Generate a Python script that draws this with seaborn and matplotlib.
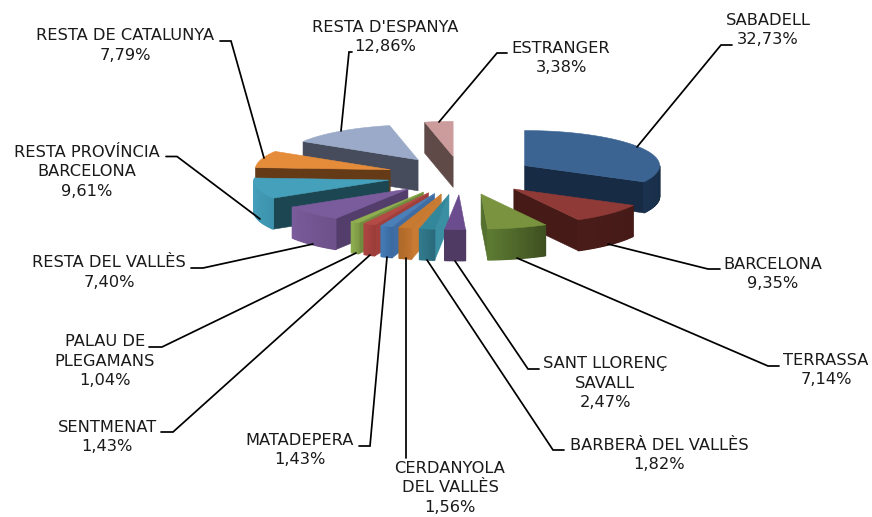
import numpy as np
import matplotlib
matplotlib.use("Agg")
import matplotlib.pyplot as plt
import seaborn as sns

sns.set_theme(style="white")
plt.rcParams['font.family'] = ['DejaVu Sans']

# --- DATA ---
names = ["SABADELL", "BARCELONA", "TERRASSA", "SANT LLORENÇ\nSAVALL", "BARBERÀ DEL VALLÈS",
         "CERDANYOLA\nDEL VALLÈS", "MATADEPERA", "SENTMENAT", "PALAU DE\nPLEGAMANS",
         "RESTA DEL VALLÈS", "RESTA PROVÍNCIA\nBARCELONA", "RESTA DE CATALUNYA",
         "RESTA D'ESPANYA", "ESTRANGER"]
values = [32.73, 9.35, 7.14, 2.47, 1.82, 1.56, 1.43, 1.43, 1.04, 7.40, 9.61, 7.79, 12.86, 3.38]

# --- COLOURS (same order as the data) ---
top_colors = ["#3b6493", "#8f3a36", "#7a933f", "#6b4c8e", "#33879b", "#c87a30", "#4a7fb8",
              "#b34a46", "#8fae4f", "#7a5b9b", "#45a0bc", "#e58c3a", "#9aaac8", "#cb9c9b"]
side_colors = ["#172b44", "#451a17", "#55702f", "#4e3a63", "#3a8fa3", "#c97b33", "#3f6da3",
               "#a03f3c", "#728c3f", "#523d6b", "#1c4752", "#643a17", "#464c5c", "#5f4a48"]
outer_start = ["#172b44", "#451a17", "#3e5020", "#4e3a63", "#2a6a7c", "#c07430", "#3a6aa0",
               "#9c3d3a", "#7e9a45", "#6d5089", "#3d93ad", "#d98334", "#464c5c", "#5f4a48"]
outer_end = ["#1b3350", "#4a1c19", "#5d7a32", "#4e3a63", "#31798c", "#b06a2a", "#437ab3",
             "#ab4441", "#8cab4e", "#7a5b9b", "#45a0bc", "#e58c3a", "#464c5c", "#5f4a48"]

# --- PIE SHAPE (pixels) ---
cx, cy = 461, 175.5
rx, ry = 135, 35
depth = 31
explode = 0.55
draw_order = [13, 12, 0, 11, 10, 1, 9, 2, 8, 7, 6, 5, 4, 3]

# --- LABELS + LEADERS (pixels) ---
label_pos = [(768, 30), (773, 274), (826, 370), (605, 383), (659, 455), (450, 488), (300, 450),
             (107, 437), (105, 361), (109, 272.5), (87, 172), (125, 45.5), (385, 37), (561, 58)]
leaders = [
    [(732, 45), (721, 45), (637, 147)],
    [(720, 269), (708, 269), (608, 244)],
    [(779, 366), (768, 366), (517, 258)],
    [(539, 369), (528, 369), (455, 261)],
    [(564, 450), (553, 450), (427, 260)],
    [(406, 458), (406, 258)],
    [(359, 446), (370, 446), (387, 257)],
    [(161, 432), (173, 432), (370, 255)],
    [(149, 347), (162, 347), (356, 253)],
    [(191, 268), (203, 268), (313, 244)],
    [(166, 156.5), (177, 156.5), (260, 219)],
    [(220, 41), (231, 41), (264, 158)],
    [(352, 52), (349, 52), (341, 131)],
    [(507, 53), (497, 53), (439, 122)],
]

fig, ax = plt.subplots(figsize=(8.72, 5.17), dpi=100)
fig.subplots_adjust(0, 0, 1, 1)
ax.set_xlim(0, 872)
ax.set_ylim(517, 0)
ax.axis('off')

# slice limits in degrees, clockwise from the top
edges = np.concatenate([[0], np.cumsum(values)]) / np.sum(values) * 360


def ellipse_xy(deg, ox, oy):
    t = np.radians(deg)
    return ox + rx * np.sin(t), oy - ry * np.cos(t)


z = 2
for i in draw_order:
    a0, a1 = edges[i], edges[i + 1]
    mid = np.radians((a0 + a1) / 2)
    ox = cx + explode * rx * np.sin(mid)
    oy = cy - explode * ry * np.cos(mid)
    x0, y0 = ellipse_xy(a0, ox, oy)
    x1, y1 = ellipse_xy(a1, ox, oy)

    # radial faces, only those turned to the viewer
    if 180 < a0 < 360:
        ax.fill([ox, x0, x0, ox], [oy, y0, y0 + depth, oy + depth], color=side_colors[i], lw=0.4, zorder=z)
    if 0 < a1 < 180:
        ax.fill([ox, x1, x1, ox], [oy, y1, y1 + depth, oy + depth], color=side_colors[i], lw=0.4, zorder=z)

    # outer wall, front part only, shaded along the arc
    lo, hi = max(a0, 90), min(a1, 270)
    if hi > lo:
        n = max(int(hi - lo), 4)
        shades = sns.blend_palette([outer_start[i], outer_end[i]], n)
        steps = np.linspace(lo, hi, n + 1)
        for j in range(n):
            xa, ya = ellipse_xy(steps[j], ox, oy)
            xb, yb = ellipse_xy(steps[j + 1], ox, oy)
            ax.fill([xa, xb, xb, xa], [ya, yb, yb + depth, ya + depth], color=shades[j],
                    lw=0.9, zorder=z)

    # top face
    arc = np.linspace(a0, a1, 80)
    xs, ys = ellipse_xy(arc, ox, oy)
    ax.fill(np.r_[ox, xs], np.r_[oy, ys], color=top_colors[i], lw=0.4, zorder=z + 0.5)
    z += 1

for i, name in enumerate(names):
    pts = np.array(leaders[i])
    ax.plot(pts[:, 0], pts[:, 1], color='black', lw=1.25, solid_joinstyle='miter', zorder=50)
    pct = f"{values[i]:.2f}".replace('.', ',') + "%"
    ax.text(label_pos[i][0], label_pos[i][1], name + "\n" + pct, ha='center', va='center',
            fontsize=11.7, color='#1a1a1a', linespacing=1.38, zorder=60)

plt.savefig("out.png", dpi=100)
plt.close()
